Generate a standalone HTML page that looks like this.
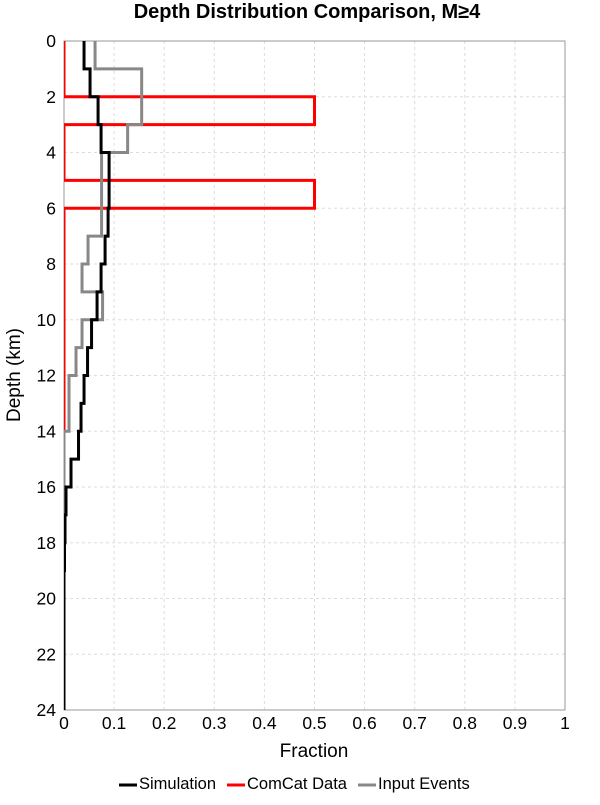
<!DOCTYPE html>
<html><head><meta charset="utf-8"><style>
body{margin:0;background:#fff;font-family:"Liberation Sans",Arial,sans-serif;}
svg text{font-family:"Liberation Sans",Arial,sans-serif;}
</style></head><body>
<svg id="chart" width="600" height="800" xmlns="http://www.w3.org/2000/svg">
<defs><clipPath id="pc"><rect x="64" y="41" width="501" height="669"/></clipPath></defs>
<text x="307" y="18" text-anchor="middle" font-size="20" font-weight="bold">Depth Distribution Comparison, M≥4</text>
<g id="grid"></g>
<rect x="64" y="41" width="501" height="669" fill="none" stroke="#999" stroke-width="1"/>
<g id="series" clip-path="url(#pc)"></g>
<g id="ticks"></g>
<text x="314" y="757" text-anchor="middle" font-size="19">Fraction</text>
<text transform="translate(20,375) rotate(-90)" text-anchor="middle" font-size="19">Depth (km)</text>
<g>
<g><line x1="119" y1="785" x2="137" y2="785" stroke="#000" stroke-width="3"/><text x="139" y="789" font-size="16.5">Simulation</text></g>
<g><line x1="227" y1="785" x2="245" y2="785" stroke="#f00" stroke-width="3"/><text x="247" y="789" font-size="16.5">ComCat Data</text></g>
<g><line x1="358" y1="785" x2="376" y2="785" stroke="#888" stroke-width="3"/><text x="378" y="789" font-size="16.5">Input Events</text></g>
</g>
</svg>
<script>
const depthBins=[0,1,2,3,4,5,6,7,8,9,10,11,12,13,14,15,16,17,18,19,20,21,22,23,24];
const simulation=[0.04,0.052,0.068,0.074,0.09,0.09,0.088,0.082,0.074,0.066,0.055,0.047,0.04,0.034,0.029,0.014,0.004,0.002,0.001,0,0,0,0,0];
const comcat=[0,0,0.5,0,0,0.5,0,0,0,0,0,0,0,0,0,0,0,0,0,0,0,0,0,0];
const inputEvents=[0.062,0.155,0.155,0.127,0.075,0.075,0.075,0.048,0.036,0.077,0.036,0.024,0.01,0.01,0,0,0,0,0,0,0,0,0,0];
const xTicks=[0,0.1,0.2,0.3,0.4,0.5,0.6,0.7,0.8,0.9,1];
const xTickLabels=["0","0.1","0.2","0.3","0.4","0.5","0.6","0.7","0.8","0.9","1"];
const yTicks=[0,2,4,6,8,10,12,14,16,18,20,22,24];
const NS="http://www.w3.org/2000/svg";
const X=v=>64+v*501, Y=d=>41+d*669/24;
const grid=document.getElementById('grid'),ticks=document.getElementById('ticks'),series=document.getElementById('series');
function mk(tag,attrs,parent){const e=document.createElementNS(NS,tag);for(const k in attrs)e.setAttribute(k,attrs[k]);parent.appendChild(e);return e;}
xTicks.forEach((v,i)=>{
  if(i>0&&i<xTicks.length-1){const l=mk('line',{x1:X(v),x2:X(v),y1:41,y2:710,stroke:'#ddd','stroke-dasharray':'3,3'},grid);
  
  }
  const t=mk('text',{x:X(v),y:729,'text-anchor':'middle','font-size':'17.5'},ticks);t.textContent=xTickLabels[i];
  
  
});
yTicks.forEach(v=>{
  if(v>0&&v<24){const l=mk('line',{x1:64,x2:565,y1:Y(v),y2:Y(v),stroke:'#ddd','stroke-dasharray':'3,3'},grid);
  
  }
  const t=mk('text',{x:56,y:Y(v)+6,'text-anchor':'end','font-size':'17.5'},ticks);t.textContent=v;
  
  
});
function stepPath(vals){let d='M'+X(vals[0])+','+Y(depthBins[0]);
  vals.forEach((v,i)=>{d+=' L'+X(v)+','+Y(depthBins[i])+' L'+X(v)+','+Y(depthBins[i+1]);});
  return d;}
const r=mk('path',{d:stepPath(comcat),fill:'none',stroke:'#f00','stroke-width':3},series);


const g=mk('path',{d:stepPath(inputEvents),fill:'none',stroke:'#888','stroke-width':3},series);


const s=mk('path',{d:stepPath(simulation),fill:'none',stroke:'#000','stroke-width':3},series);


</script>
</body></html>
